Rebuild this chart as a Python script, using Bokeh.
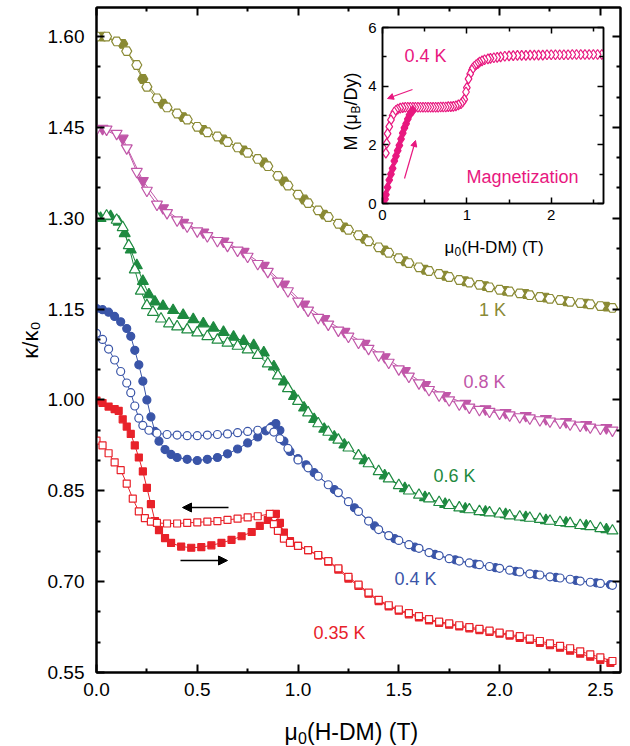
from math import pi
from bokeh.plotting import figure
from bokeh.models import (Range1d, LinearAxis, Label, Arrow, NormalHead,
                          FixedTicker, NumeralTickFormatter)
from bokeh.layouts import column
from bokeh.embed import file_html
from bokeh.resources import INLINE

FONT = "Liberation Sans"

# ---------------- main panel data: kappa/kappa0 vs mu0(H-DM) (T) ----------------
# 1 K
x_1K_down = [0.00, 0.05, 0.10, 0.15, 0.20, 0.25, 0.30, 0.35, 0.40, 0.45, 0.50, 0.55, 0.60, 0.65,
             0.70, 0.75, 0.80, 0.85, 0.90, 0.95, 1.00, 1.05, 1.10, 1.15, 1.20, 1.25, 1.30, 1.35,
             1.40, 1.45, 1.50, 1.55, 1.60, 1.65, 1.70, 1.75, 1.80, 1.85, 1.90, 1.95, 2.00, 2.05,
             2.10, 2.15, 2.20, 2.25, 2.30, 2.35, 2.40, 2.45, 2.50, 2.56]
k_1K_down = [1.600, 1.600, 1.592, 1.576, 1.553, 1.517, 1.498, 1.483, 1.473, 1.463, 1.451, 1.442,
             1.435, 1.426, 1.417, 1.408, 1.398, 1.386, 1.370, 1.354, 1.339, 1.325, 1.313, 1.302,
             1.291, 1.281, 1.272, 1.262, 1.252, 1.243, 1.234, 1.226, 1.219, 1.213, 1.208, 1.203,
             1.198, 1.194, 1.190, 1.186, 1.182, 1.179, 1.176, 1.173, 1.170, 1.167, 1.165, 1.162,
             1.160, 1.158, 1.155, 1.152]
x_1K_up = [0.03, 0.13, 0.23, 0.33, 0.43, 0.53, 0.63, 0.73, 0.83, 0.93, 1.03, 1.13, 1.23, 1.33,
           1.43, 1.53, 1.63, 1.73, 1.83, 1.93, 2.03, 2.13, 2.23, 2.33, 2.43, 2.53]
k_1K_up = [1.600, 1.588, 1.530, 1.489, 1.467, 1.446, 1.430, 1.412, 1.392, 1.361, 1.331, 1.306,
           1.285, 1.266, 1.247, 1.229, 1.215, 1.205, 1.196, 1.188, 1.180, 1.175, 1.169, 1.163,
           1.159, 1.154]

# 0.8 K
x_08K_down = x_1K_down
k_08K_down = [1.447, 1.447, 1.440, 1.416, 1.377, 1.346, 1.323, 1.309, 1.297, 1.287, 1.279, 1.271,
              1.263, 1.255, 1.247, 1.237, 1.225, 1.212, 1.196, 1.180, 1.163, 1.148, 1.136, 1.125,
              1.115, 1.105, 1.095, 1.085, 1.074, 1.062, 1.051, 1.039, 1.028, 1.017, 1.008, 1.000,
              0.993, 0.988, 0.984, 0.981, 0.978, 0.975, 0.972, 0.970, 0.967, 0.965, 0.963, 0.960,
              0.958, 0.955, 0.953, 0.950]
x_08K_up = x_1K_up
k_08K_up = [1.448, 1.432, 1.362, 1.317, 1.293, 1.277, 1.262, 1.245, 1.222, 1.191, 1.158, 1.134,
            1.113, 1.093, 1.071, 1.048, 1.025, 1.007, 0.994, 0.985, 0.979, 0.974, 0.969, 0.964,
            0.959, 0.954]

# 0.6 K
x_06K_down = [0.00, 0.05, 0.10, 0.13, 0.16, 0.19, 0.22, 0.25, 0.28, 0.32, 0.36, 0.40, 0.45, 0.50,
              0.55, 0.60, 0.65, 0.70, 0.75, 0.80, 0.85, 0.90, 0.95, 1.00, 1.05, 1.10, 1.15, 1.20,
              1.25, 1.30, 1.35, 1.40, 1.45, 1.50, 1.55, 1.60, 1.65, 1.70, 1.75, 1.80, 1.85, 1.90,
              1.95, 2.00, 2.05, 2.10, 2.15, 2.20, 2.25, 2.30, 2.35, 2.40, 2.45, 2.50, 2.56]
k_06K_down = [1.303, 1.304, 1.297, 1.285, 1.255, 1.215, 1.180, 1.156, 1.145, 1.134, 1.126, 1.121,
              1.116, 1.111, 1.105, 1.099, 1.094, 1.089, 1.083, 1.074, 1.060, 1.040, 1.019, 0.998,
              0.979, 0.961, 0.947, 0.934, 0.921, 0.908, 0.895, 0.882, 0.870, 0.859, 0.850, 0.843,
              0.837, 0.831, 0.826, 0.822, 0.819, 0.816, 0.814, 0.812, 0.809, 0.807, 0.805, 0.803,
              0.800, 0.798, 0.796, 0.793, 0.791, 0.788, 0.784]
x_06K_up = [0.02, 0.07, 0.11, 0.14, 0.17, 0.20, 0.23, 0.26, 0.29, 0.33, 0.38, 0.43, 0.48, 0.53,
            0.58, 0.63, 0.68, 0.73, 0.78, 0.83, 0.88, 0.93, 0.98, 1.03, 1.08, 1.13, 1.18, 1.23,
            1.33, 1.43, 1.53, 1.63, 1.73, 1.83, 1.93, 2.03, 2.13, 2.23, 2.33, 2.43, 2.53]
k_06K_up = [1.300, 1.303, 1.294, 1.275, 1.248, 1.222, 1.196, 1.174, 1.162, 1.155, 1.148, 1.140,
            1.133, 1.126, 1.119, 1.112, 1.104, 1.097, 1.090, 1.078, 1.055, 1.030, 1.006, 0.987,
            0.968, 0.952, 0.939, 0.926, 0.900, 0.875, 0.854, 0.839, 0.828, 0.820, 0.815, 0.811,
            0.806, 0.801, 0.797, 0.792, 0.786]

# 0.4 K
x_04K_down = [0.00, 0.03, 0.06, 0.09, 0.12, 0.15, 0.17, 0.19, 0.21, 0.23, 0.26, 0.30, 0.35, 0.40,
              0.45, 0.50, 0.55, 0.60, 0.65, 0.70, 0.75, 0.80, 0.86, 0.88, 0.91, 0.95, 1.00, 1.05,
              1.10, 1.15, 1.20, 1.25, 1.30, 1.35, 1.40, 1.45, 1.50, 1.55, 1.60, 1.65, 1.70, 1.75,
              1.80, 1.85, 1.90, 1.95, 2.00, 2.05, 2.10, 2.15, 2.20, 2.25, 2.30, 2.35, 2.40, 2.45,
              2.50, 2.56]
k_04K_down = [1.110, 1.100, 1.084, 1.066, 1.047, 1.028, 1.012, 0.990, 0.970, 0.958, 0.950, 0.945,
              0.943, 0.942, 0.941, 0.941, 0.942, 0.943, 0.944, 0.946, 0.948, 0.950, 0.953, 0.947,
              0.936, 0.920, 0.901, 0.888, 0.874, 0.860, 0.847, 0.832, 0.816, 0.800, 0.786, 0.776,
              0.768, 0.761, 0.755, 0.748, 0.743, 0.738, 0.734, 0.731, 0.728, 0.725, 0.722, 0.719,
              0.716, 0.713, 0.711, 0.708, 0.706, 0.704, 0.701, 0.699, 0.697, 0.694]
x_04K_up = [0.00, 0.03, 0.06, 0.09, 0.12, 0.15, 0.17, 0.19, 0.21, 0.23, 0.25, 0.27, 0.29, 0.31,
            0.34, 0.37, 0.40, 0.45, 0.50, 0.55, 0.60, 0.65, 0.70, 0.75, 0.80, 0.84, 0.87, 0.89,
            0.91, 0.93, 0.96, 1.00, 1.04, 1.08, 1.18, 1.28, 1.38, 1.48, 1.58, 1.68, 1.78, 1.88,
            1.98, 2.08, 2.18, 2.28, 2.38, 2.48, 2.55]
k_04K_up = [1.151, 1.149, 1.145, 1.138, 1.129, 1.118, 1.105, 1.082, 1.058, 1.031, 1.000, 0.972,
            0.948, 0.932, 0.918, 0.910, 0.905, 0.902, 0.900, 0.902, 0.905, 0.911, 0.919, 0.929,
            0.939, 0.949, 0.956, 0.961, 0.950, 0.932, 0.915, 0.903, 0.893, 0.880, 0.852, 0.822,
            0.792, 0.771, 0.757, 0.745, 0.736, 0.729, 0.723, 0.717, 0.712, 0.707, 0.702, 0.698,
            0.695]

# 0.35 K
x_035K_down = [0.00, 0.03, 0.06, 0.09, 0.12, 0.15, 0.18, 0.21, 0.24, 0.27, 0.30, 0.35, 0.40, 0.45,
               0.50, 0.55, 0.60, 0.65, 0.70, 0.75, 0.80, 0.86, 0.88, 0.90, 0.93, 0.96, 1.00, 1.05,
               1.10, 1.15, 1.20, 1.25, 1.30, 1.35, 1.40, 1.45, 1.50, 1.55, 1.60, 1.65, 1.70, 1.75,
               1.80, 1.85, 1.90, 1.95, 2.00, 2.05, 2.10, 2.15, 2.20, 2.25, 2.30, 2.35, 2.40, 2.45,
               2.50, 2.56]
k_035K_down = [0.933, 0.925, 0.912, 0.897, 0.884, 0.862, 0.837, 0.816, 0.805, 0.799, 0.797, 0.796,
               0.796, 0.797, 0.798, 0.799, 0.800, 0.802, 0.804, 0.806, 0.808, 0.812, 0.795, 0.784,
               0.771, 0.764, 0.759, 0.752, 0.744, 0.734, 0.722, 0.708, 0.695, 0.682, 0.670, 0.661,
               0.654, 0.648, 0.643, 0.638, 0.634, 0.631, 0.628, 0.625, 0.622, 0.619, 0.616, 0.613,
               0.610, 0.606, 0.602, 0.598, 0.594, 0.590, 0.585, 0.580, 0.575, 0.569]
x_035K_up = [0.00, 0.03, 0.06, 0.09, 0.11, 0.13, 0.15, 0.17, 0.19, 0.21, 0.23, 0.25, 0.27, 0.29,
             0.31, 0.34, 0.37, 0.42, 0.47, 0.52, 0.57, 0.62, 0.67, 0.72, 0.77, 0.81, 0.85, 0.89,
             0.91, 0.93, 0.96, 1.00, 1.05, 1.10, 1.15, 1.20, 1.25, 1.30, 1.35, 1.40, 1.45, 1.50,
             1.55, 1.60, 1.65, 1.70, 1.75, 1.80, 1.85, 1.90, 1.95, 2.00, 2.05, 2.10, 2.15, 2.20,
             2.25, 2.30, 2.35, 2.40, 2.45, 2.50, 2.55]
k_035K_up = [0.999, 0.995, 0.989, 0.985, 0.982, 0.968, 0.956, 0.944, 0.925, 0.905, 0.882, 0.855,
             0.828, 0.800, 0.785, 0.772, 0.764, 0.758, 0.756, 0.757, 0.760, 0.764, 0.769, 0.775,
             0.782, 0.792, 0.802, 0.812, 0.797, 0.781, 0.767, 0.759, 0.752, 0.743, 0.733, 0.720,
             0.705, 0.693, 0.680, 0.668, 0.659, 0.652, 0.646, 0.641, 0.636, 0.632, 0.629, 0.626,
             0.623, 0.620, 0.617, 0.614, 0.611, 0.607, 0.604, 0.599, 0.595, 0.591, 0.586, 0.581,
             0.576, 0.571, 0.566]

# ---------------- inset data: M (muB/Dy) vs mu0(H-DM) (T), 0.4 K ----------------
x_M_up = [0.03, 0.04, 0.06, 0.08, 0.10, 0.12, 0.14, 0.16, 0.18, 0.20, 0.22, 0.24, 0.26, 0.28,
          0.30, 0.32, 0.34, 0.36]
M_up = [0.15, 0.30, 0.55, 0.80, 1.00, 1.20, 1.45, 1.62, 1.80, 1.98, 2.20, 2.40, 2.58, 2.72,
        2.88, 3.02, 3.12, 3.17]
x_M_down = [2.60, 2.55, 2.50, 2.45, 2.40, 2.35, 2.30, 2.25, 2.20, 2.15, 2.10, 2.05, 2.00, 1.95,
            1.90, 1.85, 1.80, 1.75, 1.70, 1.65, 1.60, 1.55, 1.50, 1.45, 1.40, 1.36, 1.32, 1.28,
            1.25, 1.21, 1.18, 1.15, 1.13, 1.11, 1.09, 1.07, 1.06, 1.04, 1.02, 1.00, 0.99, 0.97,
            0.95, 0.93, 0.90, 0.87, 0.84, 0.81, 0.78, 0.75, 0.72, 0.69, 0.66, 0.63, 0.60, 0.57,
            0.54, 0.51, 0.48, 0.45, 0.42, 0.39, 0.36, 0.33, 0.30, 0.27, 0.24, 0.21, 0.18, 0.16,
            0.14, 0.12, 0.10, 0.08, 0.06, 0.05, 0.04]
M_down = [5.08, 5.08, 5.08, 5.08, 5.08, 5.08, 5.08, 5.08, 5.07, 5.07, 5.07, 5.07, 5.07, 5.07,
          5.06, 5.06, 5.06, 5.06, 5.05, 5.05, 5.05, 5.04, 5.03, 5.02, 5.00, 4.98, 4.97, 4.95,
          4.93, 4.90, 4.86, 4.82, 4.77, 4.73, 4.68, 4.62, 4.55, 4.42, 4.25, 3.95, 3.80, 3.55,
          3.46, 3.40, 3.36, 3.33, 3.31, 3.30, 3.30, 3.29, 3.29, 3.29, 3.28, 3.28, 3.28, 3.28,
          3.28, 3.28, 3.28, 3.28, 3.28, 3.28, 3.28, 3.28, 3.28, 3.28, 3.27, 3.25, 3.22, 3.18,
          3.12, 3.00, 2.85, 2.62, 2.38, 2.05, 1.72]

# tick positions
x_ticks = [0.0, 0.5, 1.0, 1.5, 2.0, 2.5]
x_minor = [0.25, 0.75, 1.25, 1.75, 2.25]
y_ticks = [0.55, 0.70, 0.85, 1.00, 1.15, 1.30, 1.45, 1.60]
y_minor = [0.60, 0.65, 0.75, 0.80, 0.90, 0.95, 1.05, 1.10, 1.20, 1.25, 1.35, 1.40, 1.50, 1.55]
ix_ticks = [0, 1, 2]
ix_minor = [0.5, 1.5, 2.5]
iy_ticks = [0, 2, 4, 6]
iy_minor = [1, 3, 5]

C1, C08, C06, C04, C035, CM = "#8A8A35", "#C056A8", "#1E8A40", "#3A55A8", "#E8222A", "#E8187F"

# ---------------- main figure ----------------
X0, X1, Y0, Y1 = 0.0, 2.6, 0.55, 1.648
L, R, T, B = 96, 620, 7, 672
W, H = 630, 746

def mx(px):
    return X0 + (px - L) * (X1 - X0) / (R - L)

def my(py):
    return Y0 + (B - py) * (Y1 - Y0) / (B - T)

p = figure(width=W, height=H, output_backend="svg", toolbar_location=None,
           x_range=Range1d(X0, X1), y_range=Range1d(Y0, Y1),
           min_border_left=L, min_border_right=W - R, min_border_top=T, min_border_bottom=H - B)
p.grid.visible = False
p.outline_line_color = "black"
p.outline_line_width = 2
p.background_fill_alpha = 0
p.border_fill_alpha = 0


def style_axis(ax, ticks, minor, fmt, size, show_labels=True, lw=2, tin=8, mtin=4, standoff=11):
    ax.ticker = FixedTicker(ticks=ticks, minor_ticks=minor)
    ax.formatter = NumeralTickFormatter(format=fmt)
    ax.axis_line_color = "black"
    ax.axis_line_width = lw
    ax.major_tick_line_width = lw
    ax.minor_tick_line_width = lw
    ax.major_tick_in = tin
    ax.major_tick_out = 0
    ax.minor_tick_in = mtin
    ax.minor_tick_out = 0
    ax.major_label_text_font = FONT
    ax.major_label_text_font_style = "normal"
    if show_labels:
        ax.major_label_text_color = "black"
        ax.major_label_text_font_size = size
        ax.major_label_standoff = standoff
    else:
        ax.major_label_text_color = None
        ax.major_label_text_alpha = 0
        ax.major_label_text_font_size = "1px"
        ax.major_label_standoff = 0
    ax.axis_label = None


style_axis(p.xaxis[0], x_ticks, x_minor, "0.0", "19px", standoff=10)
style_axis(p.yaxis[0], y_ticks, y_minor, "0.00", "19px", standoff=12)
ax_r = LinearAxis()
style_axis(ax_r, y_ticks, y_minor, "0.00", "19px", show_labels=False)
p.add_layout(ax_r, "right")
ax_t = LinearAxis()
style_axis(ax_t, x_ticks, x_minor, "0.0", "19px", show_labels=False)
p.add_layout(ax_t, "above")

# y-axis title (kappa / kappa_0), left of the tick labels
p.yaxis[0].axis_label = "κ/κ₀"
p.yaxis[0].axis_label_text_font = FONT
p.yaxis[0].axis_label_text_font_size = "22px"
p.yaxis[0].axis_label_text_font_style = "normal"
p.yaxis[0].axis_label_text_color = "black"
p.yaxis[0].axis_label_standoff = 2


def series(fig, x, y, color, marker, size, filled, lw=1.2):
    fig.line(x, y, line_color=color, line_width=1)
    if filled:
        fig.scatter(x, y, marker=marker, size=size, fill_color=color, line_color=color, line_width=lw)
    else:
        fig.scatter(x, y, marker=marker, size=size, fill_color="white", line_color=color, line_width=lw)


series(p, x_1K_up, k_1K_up, C1, "hex", 10, True)
series(p, x_1K_down, k_1K_down, C1, "hex", 10, False)
series(p, x_08K_up, k_08K_up, C08, "inverted_triangle", 11, True)
series(p, x_08K_down, k_08K_down, C08, "inverted_triangle", 11, False)
series(p, x_06K_up, k_06K_up, C06, "triangle", 11, True)
series(p, x_06K_down, k_06K_down, C06, "triangle", 11, False)
series(p, x_04K_up, k_04K_up, C04, "circle", 8, True)
series(p, x_04K_down, k_04K_down, C04, "circle", 8, False)
series(p, x_035K_up, k_035K_up, C035, "square", 7, True)
series(p, x_035K_down, k_035K_down, C035, "square", 7, False)

# curve labels
for txt, px, py, col in [("1 K", 492, 309, C1), ("0.8 K", 484, 381, C08), ("0.6 K", 454, 475, C06),
                         ("0.4 K", 415, 578, C04), ("0.35 K", 339, 632, C035)]:
    p.add_layout(Label(x=mx(px), y=my(py), text=txt, text_color=col, text_font=FONT,
                       text_font_size="18px", text_align="center", text_baseline="middle"))

# sweep arrows
p.add_layout(Arrow(end=NormalHead(size=9, fill_color="black", line_color="black"),
                   x_start=mx(228), y_start=my(507), x_end=mx(182), y_end=my(507),
                   line_color="black", line_width=1.5))
p.add_layout(Arrow(end=NormalHead(size=9, fill_color="black", line_color="black"),
                   x_start=mx(180), y_start=my(560), x_end=mx(227), y_end=my(560),
                   line_color="black", line_width=1.5))

# ---------------- inset ----------------
IL, IR, IT, IB = 382, 603, 27, 203
ITOP = 12
ITB = IT - ITOP
IBB = 48
IH = ITB + (IB - IT) + IBB
ILEFT = IL - L                       # column aligns frame borders with the main figure
IW = L + (IR - IL) + (W - R)
iX0, iX1, iY0, iY1 = 0.0, 2.62, 0.0, 6.0

def ix(px):
    return iX0 + (px - IL) * (iX1 - iX0) / (IR - IL)

def iy(py):
    return iY0 + (IB - py) * (iY1 - iY0) / (IB - IT)

ins = figure(width=IW, height=IH, output_backend="svg", toolbar_location=None,
             x_range=Range1d(iX0, iX1), y_range=Range1d(iY0, iY1),
             min_border_left=L, min_border_right=W - R,
             min_border_top=ITB, min_border_bottom=IBB)
ins.grid.visible = False
ins.outline_line_color = "black"
ins.outline_line_width = 1.5
ins.border_fill_alpha = 0
ins.background_fill_color = "white"
style_axis(ins.xaxis[0], ix_ticks, ix_minor, "0", "15px", lw=1.5, tin=6, mtin=4, standoff=6)
style_axis(ins.yaxis[0], iy_ticks, iy_minor, "0", "15px", lw=1.5, tin=6, mtin=4, standoff=6)
iar = LinearAxis()
style_axis(iar, iy_ticks, iy_minor, "0", "15px", show_labels=False, lw=1.5, tin=6, mtin=4)
ins.add_layout(iar, "right")
iat = LinearAxis()
style_axis(iat, ix_ticks, ix_minor, "0", "15px", show_labels=False, lw=1.5, tin=6, mtin=4)
ins.add_layout(iat, "above")

ins.scatter(x_M_down, M_down, marker="diamond", size=10, fill_color="white", line_color=CM,
            line_width=1.2)
ins.scatter(x_M_up, M_up, marker="diamond", size=10, fill_color=CM, line_color=CM, line_width=1.2)

ins.add_layout(Label(x=ix(425), y=iy(55), text="0.4 K", text_color=CM, text_font=FONT,
                     text_font_size="18px", text_align="center", text_baseline="middle"))
ins.add_layout(Label(x=ix(522), y=iy(176), text="Magnetization", text_color=CM, text_font=FONT,
                     text_font_size="18px", text_align="center", text_baseline="middle"))
ins.add_layout(Arrow(end=NormalHead(size=6, fill_color=CM, line_color=CM),
                     x_start=ix(412), y_start=iy(89), x_end=ix(387), y_end=iy(98),
                     line_color=CM, line_width=1.2))
ins.add_layout(Arrow(end=NormalHead(size=6, fill_color=CM, line_color=CM),
                     x_start=ix(404), y_start=iy(178), x_end=ix(415), y_end=iy(140),
                     line_color=CM, line_width=1.2))

# ---------------- transparent overlay for axis titles with subscripts ----------------
# (its frame spans x = L..R, y = 0..H; ranges are set so that data units equal page pixels)
ov = figure(width=W, height=H, output_backend="svg", toolbar_location=None,
            x_range=Range1d(L, R), y_range=Range1d(H, 0),
            x_axis_location=None, y_axis_location=None,
            min_border_left=L, min_border_right=W - R, min_border_top=0, min_border_bottom=0)
ov.grid.visible = False
ov.outline_line_color = None
ov.background_fill_alpha = 0
ov.border_fill_alpha = 0

def otext(x, y, text, size, angle=0.0, color="black"):
    ov.add_layout(Label(x=x, y=y, text=text, text_font=FONT, text_font_size=size,
                        text_color=color, text_baseline="alphabetic", text_align="left",
                        angle=angle))

# main x title: mu_0(H-DM) (T)
otext(284, 731, "μ", "23px")
otext(297.5, 737, "0", "16px")
otext(306.5, 731, "(H-DM) (T)", "23px")
# inset x title
otext(444, 247, "μ", "17px")
otext(454, 251, "0", "12px")
otext(461, 247, "(H-DM) (T)", "17px")
# inset y title: M (mu_B/Dy)
otext(350, 150, "M (μ", "18px", angle=pi / 2)
otext(355, 113, "B", "12px", angle=pi / 2)
otext(350, 105, "/Dy)", "18px", angle=pi / 2)

ins.margin = (ITOP, 0, 0, ILEFT)
p.margin = (-(ITOP + IH), 0, 0, 0)
ov.margin = (-H, 0, 0, 0)

layout = column(ins, p, ov)
open("out.html", "w").write(file_html(layout, INLINE))
